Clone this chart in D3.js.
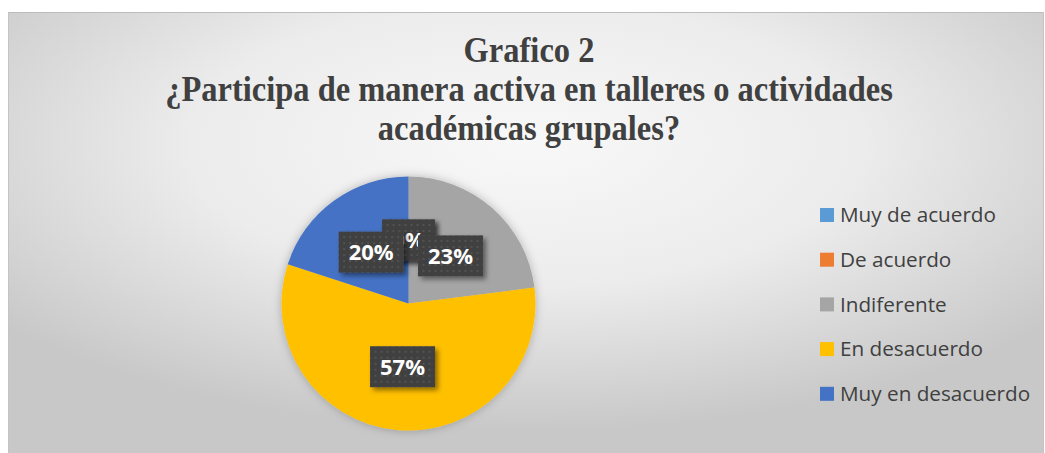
<!DOCTYPE html>
<html>
<head>
<meta charset="utf-8">
<script src="https://cdn.jsdelivr.net/npm/d3@7"></script>
<style>
  html, body { margin: 0; padding: 0; background: #ffffff; }
  svg { display: block; }
</style>
</head>
<body>
<div id="chart"></div>
<script>
const categories = ['Muy de acuerdo', 'De acuerdo', 'Indiferente', 'En desacuerdo', 'Muy en desacuerdo'];
const values = [0, 0, 23, 57, 20];
const colors = ['#5B9BD5', '#ED7D31', '#A5A5A5', '#FFC000', '#4472C4'];
const titleLines = ['Grafico 2', '¿Participa de manera activa en talleres o actividades', 'académicas grupales?'];

const W = 1045, H = 453;
const cx = 408.5, cy = 303.5, r = 127;

const svg = d3.select('#chart').append('svg')
  .attr('width', W)
  .attr('height', H);

const defs = svg.append('defs');

const bg = defs.append('radialGradient')
  .attr('id', 'bg')
  .attr('cx', '0.5').attr('cy', '0.3').attr('r', '0.65');
bg.append('stop').attr('offset', '0').attr('stop-color', '#f8f8f8');
bg.append('stop').attr('offset', '0.5').attr('stop-color', '#ececec');
bg.append('stop').attr('offset', '1').attr('stop-color', '#c8c8c8');

const glow = defs.append('filter').attr('id', 'glow')
  .attr('x', '-20%').attr('y', '-20%').attr('width', '140%').attr('height', '140%');
glow.append('feDropShadow')
  .attr('dx', 0).attr('dy', 0).attr('stdDeviation', 5)
  .attr('flood-color', '#000').attr('flood-opacity', 0.25);

const boxShadow = defs.append('filter').attr('id', 'boxShadow')
  .attr('x', '-30%').attr('y', '-30%').attr('width', '160%').attr('height', '160%');
boxShadow.append('feDropShadow')
  .attr('dx', 3).attr('dy', 3).attr('stdDeviation', 2.5)
  .attr('flood-color', '#000').attr('flood-opacity', 0.45);

const dots = defs.append('pattern').attr('id', 'dots')
  .attr('patternUnits', 'userSpaceOnUse')
  .attr('width', 6).attr('height', 6);
dots.append('rect').attr('width', 6).attr('height', 6).attr('fill', '#404040');
dots.append('rect').attr('x', 2).attr('y', 2).attr('width', 2).attr('height', 2).attr('fill', '#525252');

// chart area
svg.append('rect')
  .attr('x', 8).attr('y', 12)
  .attr('width', 1036).attr('height', H - 12)
  .attr('fill', 'url(#bg)');
svg.append('line')
  .attr('x1', 8).attr('x2', 1044).attr('y1', 12.5).attr('y2', 12.5)
  .attr('stroke', '#bcbcbc');
svg.append('line')
  .attr('x1', 8.5).attr('x2', 8.5).attr('y1', 12).attr('y2', H)
  .attr('stroke', '#c4c4c4');
svg.append('line')
  .attr('x1', 1043.5).attr('x2', 1043.5).attr('y1', 12).attr('y2', H)
  .attr('stroke', '#c4c4c4');

// title (Times-like, slightly tall)
const titleY = [62, 101, 140];
svg.append('g')
  .selectAll('text')
  .data(titleLines)
  .join('text')
  .attr('transform', (d, i) => `translate(529,${titleY[i]}) scale(1,1.12)`)
  .attr('text-anchor', 'middle')
  .attr('font-family', '"Liberation Serif", "Times New Roman", serif')
  .attr('font-weight', 'bold')
  .attr('font-size', 32.5)
  .attr('fill', '#404040')
  .text(d => d);

// pie
const pie = d3.pie().sort(null).value(d => d)(values);
const arc = d3.arc().innerRadius(0).outerRadius(r);

const g = svg.append('g').attr('transform', `translate(${cx},${cy})`);

g.append('g').attr('filter', 'url(#glow)')
  .selectAll('path')
  .data(pie)
  .join('path')
  .attr('d', arc)
  .attr('fill', (d, i) => colors[i]);

// data labels
const labels = g.append('g')
  .selectAll('g')
  .data(pie)
  .join('g')
  .attr('transform', d => `translate(${arc.centroid(d)})`);

labels.append('text')
  .attr('text-anchor', 'middle')
  .attr('dy', '0.36em')
  .attr('font-family', '"Open Sans", sans-serif')
  .attr('font-weight', 'bold')
  .attr('font-size', 22)
  .attr('fill', '#ffffff')
  .text(d => d3.format('.0%')(d.value / d3.sum(values)));

labels.each(function() {
  const grp = d3.select(this);
  const t = grp.select('text');
  const w = t.node().getComputedTextLength() + 20;
  grp.insert('rect', 'text')
    .attr('x', -w / 2).attr('y', -20.5)
    .attr('width', w).attr('height', 41)
    .attr('fill', 'url(#dots)')
    .attr('filter', 'url(#boxShadow)');
});

// legend
const legend = svg.append('g')
  .selectAll('g')
  .data(categories)
  .join('g')
  .attr('transform', (d, i) => `translate(820, ${215 + i * 44.7})`);

legend.append('rect')
  .attr('x', 0).attr('y', -7)
  .attr('width', 14).attr('height', 14)
  .attr('fill', (d, i) => colors[i]);

legend.append('text')
  .attr('x', 20)
  .attr('dy', '0.35em')
  .attr('font-family', '"Open Sans", sans-serif')
  .attr('font-size', 20.7)
  .attr('fill', '#404040')
  .text(d => d);
</script>
</body>
</html>
